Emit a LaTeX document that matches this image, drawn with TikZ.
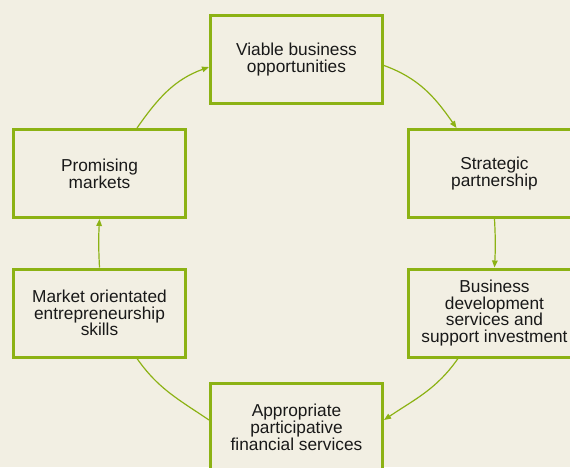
\documentclass[tikz,border=0pt]{standalone}
\usepackage{fontspec}
\setmainfont{Liberation Sans}
\usetikzlibrary{arrows.meta}
\definecolor{bg}{RGB}{242,239,227}
\definecolor{grn}{RGB}{140,178,20}
\definecolor{txt}{RGB}{25,25,25}
\tikzset{
  box/.style={draw=grn, line width=3pt, fill=bg, rectangle, minimum width=172pt, minimum height=88pt,
    inner sep=0pt, align=center, text=txt, font=\fontsize{17.3}{16.7}\selectfont},
  conn/.style={draw=grn, line width=1.2pt},
  tip/.style={-{Triangle[length=7pt,width=5.5pt]}}
}
\begin{document}
\begin{tikzpicture}[x=1pt,y=1pt]
\path[use as bounding box, fill=bg] (0,0) rectangle (570,467);
\begin{scope}
\clip (0,0) rectangle (570,467);
\node[box] (top) at (296.5,407.5) {Viable business\\opportunities};
\node[box] (strat) at (494.5,293.5) {Strategic\\partnership};
\node[box] (bus) at (494.5,154) {Business\\development\\services and\\support investment};
\node[box] (bot) at (296.5,39.5) {Appropriate\\participative\\financial services};
\node[box] (mkt) at (99.5,154) {Market orientated\\entrepreneurship\\skills};
\node[box] (prom) at (99.5,293.5) {Promising\\markets};

\coordinate (a1) at ([yshift=-6pt]top.east);
\coordinate (a2) at ([xshift=-38pt]strat.north);
\draw[conn,tip] (a1) to[out=-20,in=125] (a2);
\draw[conn,tip] (strat.south) to[out=-87,in=87] (bus.north);
\coordinate (b1) at ([xshift=-36.5pt]bus.south);
\coordinate (b2) at ([yshift=7.5pt]bot.east);
\draw[conn,tip] (b1) to[out=-125,in=34] (b2);
\coordinate (c1) at ([yshift=7.5pt]bot.west);
\coordinate (c2) at ([xshift=37.5pt]mkt.south);
\draw[conn] (c1) to[out=146,in=-55] (c2);
\draw[conn,tip] (mkt.north) to[out=93,in=-93] (prom.north |- prom.south);
\coordinate (d1) at ([xshift=37.5pt]prom.north);
\coordinate (d2) at ([yshift=-7.5pt]top.west);
\draw[conn,tip] (d1) to[out=55,in=-160] (d2);
\end{scope}
\end{tikzpicture}
\end{document}
